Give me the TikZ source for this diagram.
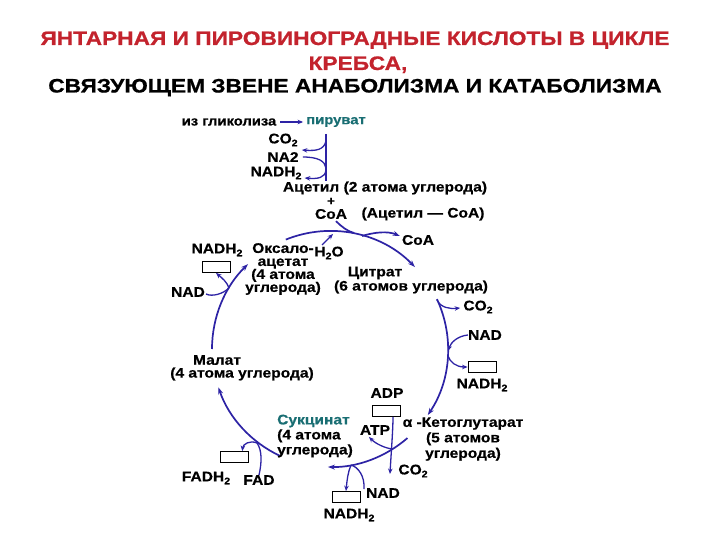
\documentclass[tikz,border=0pt]{standalone}
\usepackage{fontspec}
\setmainfont{Liberation Sans}
\newfontfamily\lblfont{Liberation Sans}[FakeStretch=1.12, FakeBold=0.5]
\newfontfamily\ttlfont{Liberation Sans}[FakeStretch=1.165, FakeBold=0.8]
\usetikzlibrary{arrows.meta,calc}
\definecolor{cycblue}{RGB}{45,35,165}
\definecolor{ttlred}{RGB}{195,35,45}
\definecolor{tealtxt}{RGB}{25,110,115}
\newcommand{\lowtwo}{\raisebox{-0.4ex}{\fontsize{9.5}{9.5}\selectfont 2}}
\begin{document}
\begin{tikzpicture}[x=1pt,y=-1pt,
  lbl/.style={font={\lblfont\bfseries\fontsize{13.9}{13}\selectfont}, inner sep=0pt, align=center},
  small/.style={font={\lblfont\bfseries\fontsize{13.2}{13}\selectfont}, inner sep=0pt},
  cycline/.style={draw=cycblue, line width=1.7pt},
  arr/.style={cycline, -{Stealth[length=7pt,width=5pt]}},
  thin/.style={draw=cycblue, line width=1.3pt},
  tharr/.style={thin, -{Stealth[length=5.5pt,width=4.5pt]}},
  smallbox/.style={draw=black, fill=white, line width=0.8pt, minimum width=28pt, minimum height=11pt, inner sep=0pt},
  ttl/.style={font={\ttlfont\bfseries\fontsize{19.5}{20}\selectfont}, inner sep=0pt, anchor=base}]
\useasboundingbox[fill=white] (0,0) rectangle (720,540);

% title
\node[ttl, text=ttlred] (t1) at (355,45) {ЯНТАРНАЯ И ПИРОВИНОГРАДНЫЕ КИСЛОТЫ В ЦИКЛЕ};
\node[ttl, text=ttlred] (t2) at (358,70) {КРЕБСА,};
\node[ttl] (t3) at (355,92.5) {СВЯЗУЮЩЕМ ЗВЕНЕ АНАБОЛИЗМА И КАТАБОЛИЗМА};

% pyruvate part
\node[small] (gly) at (229,122) {из гликолиза};
\node[small, text=tealtxt] (pyr) at (336,122) {пируват};
\draw[tharr] ($(gly.east)+(4,0)$) -- ($(pyr.west)+(-3,0)$);
\node[lbl] (pco2) at (283,140) {CO\lowtwo};
\node[lbl] (pna2) at (283,157) {NA2};
\node[lbl] (pnadh) at (276,173) {NADH\lowtwo};
\coordinate (v1) at (326,134);
\coordinate (v2) at (326,181);
\draw[thin] (v1) -- (v2);
\draw[tharr] (326,141) .. controls (324,150) and (316,151) .. ($(pco2.east)+(4,10)$);
\draw[thin] ($(pna2.east)+(4,0)$) .. controls (318,157) and (325,161) .. (326,168);
\draw[tharr] (326,170) .. controls (325,178) and (318,179) .. ($(pnadh.east)+(3,5)$);

\node[lbl] (acet) at (385,188) {Ацетил (2 атома углерода)};
\node[lbl, font={\lblfont\bfseries\fontsize{12}{12}\selectfont}] (plus) at (331,201.5) {+};
\node[lbl] (coa) at (331,214) {CoA};
\node[lbl] (acoa) at (423,214) {(Ацетил — CoA)};

% cycle
\coordinate (C) at (330,349);
\draw[arr] (C) ++(-112:118) arc[start angle=-112, end angle=-44, radius=118];
\draw[arr] (C) ++(-25:118) arc[start angle=-25, end angle=34, radius=118];
\draw[arr] (C) ++(49:118) arc[start angle=49, end angle=91, radius=118];
\draw[arr] (C) ++(115:118) arc[start angle=115, end angle=161, radius=118];
\draw[arr] (C) ++(180:118) arc[start angle=180, end angle=226, radius=118];

% top junction
\draw[cycline] ($(coa.south)+(5,2)$) .. controls (342,227) and (347,231) .. (354,233);
\node[lbl] (coar) at (418,240) {CoA};
\draw[arr] (362,236) .. controls (375,232) and (388,231) .. ($(coar.west)+(-2,-4)$);
\node[lbl] (h2o) at (329,253) {H\lowtwo O};
\draw[tharr] (322,245) -- (333,234);

% oxaloacetate
\node[lbl] (oxa) at (283,269) {Оксало-\\ацетат\\(4 атома\\углерода)};
\node[lbl] (nadh1) at (217,250) {NADH\lowtwo};
\node[smallbox] (b1) at (216,267) {};
\node[lbl] (nad1) at (188,292) {NAD};
\draw[thin] ($(nad1.east)+(1,2)$) .. controls (212,297) and (223,294) .. (229,288);
\draw[tharr] (229,288) .. controls (227,282) and (222,278) .. (b1.south);

% citrate
\node[lbl] (cit) at (375,273) {Цитрат};
\node[lbl] (cit2) at (411,287) {(6 атомов углерода)};
\node[lbl] (rco2) at (478,307) {CO\lowtwo};
\node[lbl] (rnad) at (485,335) {NAD};
\node[smallbox] (b2) at (482,367) {};
\node[lbl] (rnadh) at (482,385) {NADH\lowtwo};
\draw[tharr] (437,300) .. controls (441,308) and (450,309) .. ($(rco2.west)+(-3,1)$);
\draw[tharr] (rnad.west) .. controls (458,336) and (451,342) .. (448,351);
\draw[tharr] (448,356) .. controls (450,362) and (456,367) .. (b2.west);

% alpha-ketoglutarate
\node[lbl, font={\lblfont\bfseries\fontsize{13.9}{15.5}\selectfont}] (akg) at (463,439) {α -Кетоглутарат\\(5 атомов\\углерода)};
\node[lbl] (adp) at (387,393) {ADP};
\node[smallbox] (b3) at (386,411) {};
\node[lbl] (atp) at (375,430) {ATP};
\node[lbl] (bco2) at (413,471) {CO\lowtwo};
\draw[tharr] ($(b3.south)+(7,0)$) .. controls (393,430) and (391,455) .. (390,474);
\draw[tharr] (392,449) .. controls (385,448) and (376,444) .. ($(atp.south)+(-6,2)$);

% bottom NAD
\node[lbl] (bnad) at (383,493) {NAD};
\node[smallbox] (b4) at (346,497) {};
\node[lbl] (bnadh) at (349,515) {NADH\lowtwo};
\draw[thin] ($(bnad.west)+(-2,-4)$) .. controls (365,476) and (358,467) .. (351,465);
\draw[tharr] (351,465) .. controls (348,472) and (347,480) .. (b4.north);

% succinate
\node[lbl, font={\lblfont\bfseries\fontsize{13.9}{15}\selectfont}, align=left, anchor=west] (suc) at (277,436) {\textcolor{tealtxt}{Сукцинат}\\(4 атома\\углерода)};
\node[smallbox] (b5) at (234,457) {};
\node[lbl] (fadh) at (206,478) {FADH\lowtwo};
\node[lbl] (fad) at (259,480) {FAD};
\draw[thin] (fad.north) .. controls (262,462) and (262,450) .. (257,443);
\draw[tharr] (257,443) .. controls (250,440) and (243,444) .. ($(b5.north east)+(-6,0)$);

% malate
\node[lbl] (mal) at (217,360) {Малат};
\node[lbl] (mal2) at (242,374) {(4 атома углерода)};
\end{tikzpicture}
\end{document}
